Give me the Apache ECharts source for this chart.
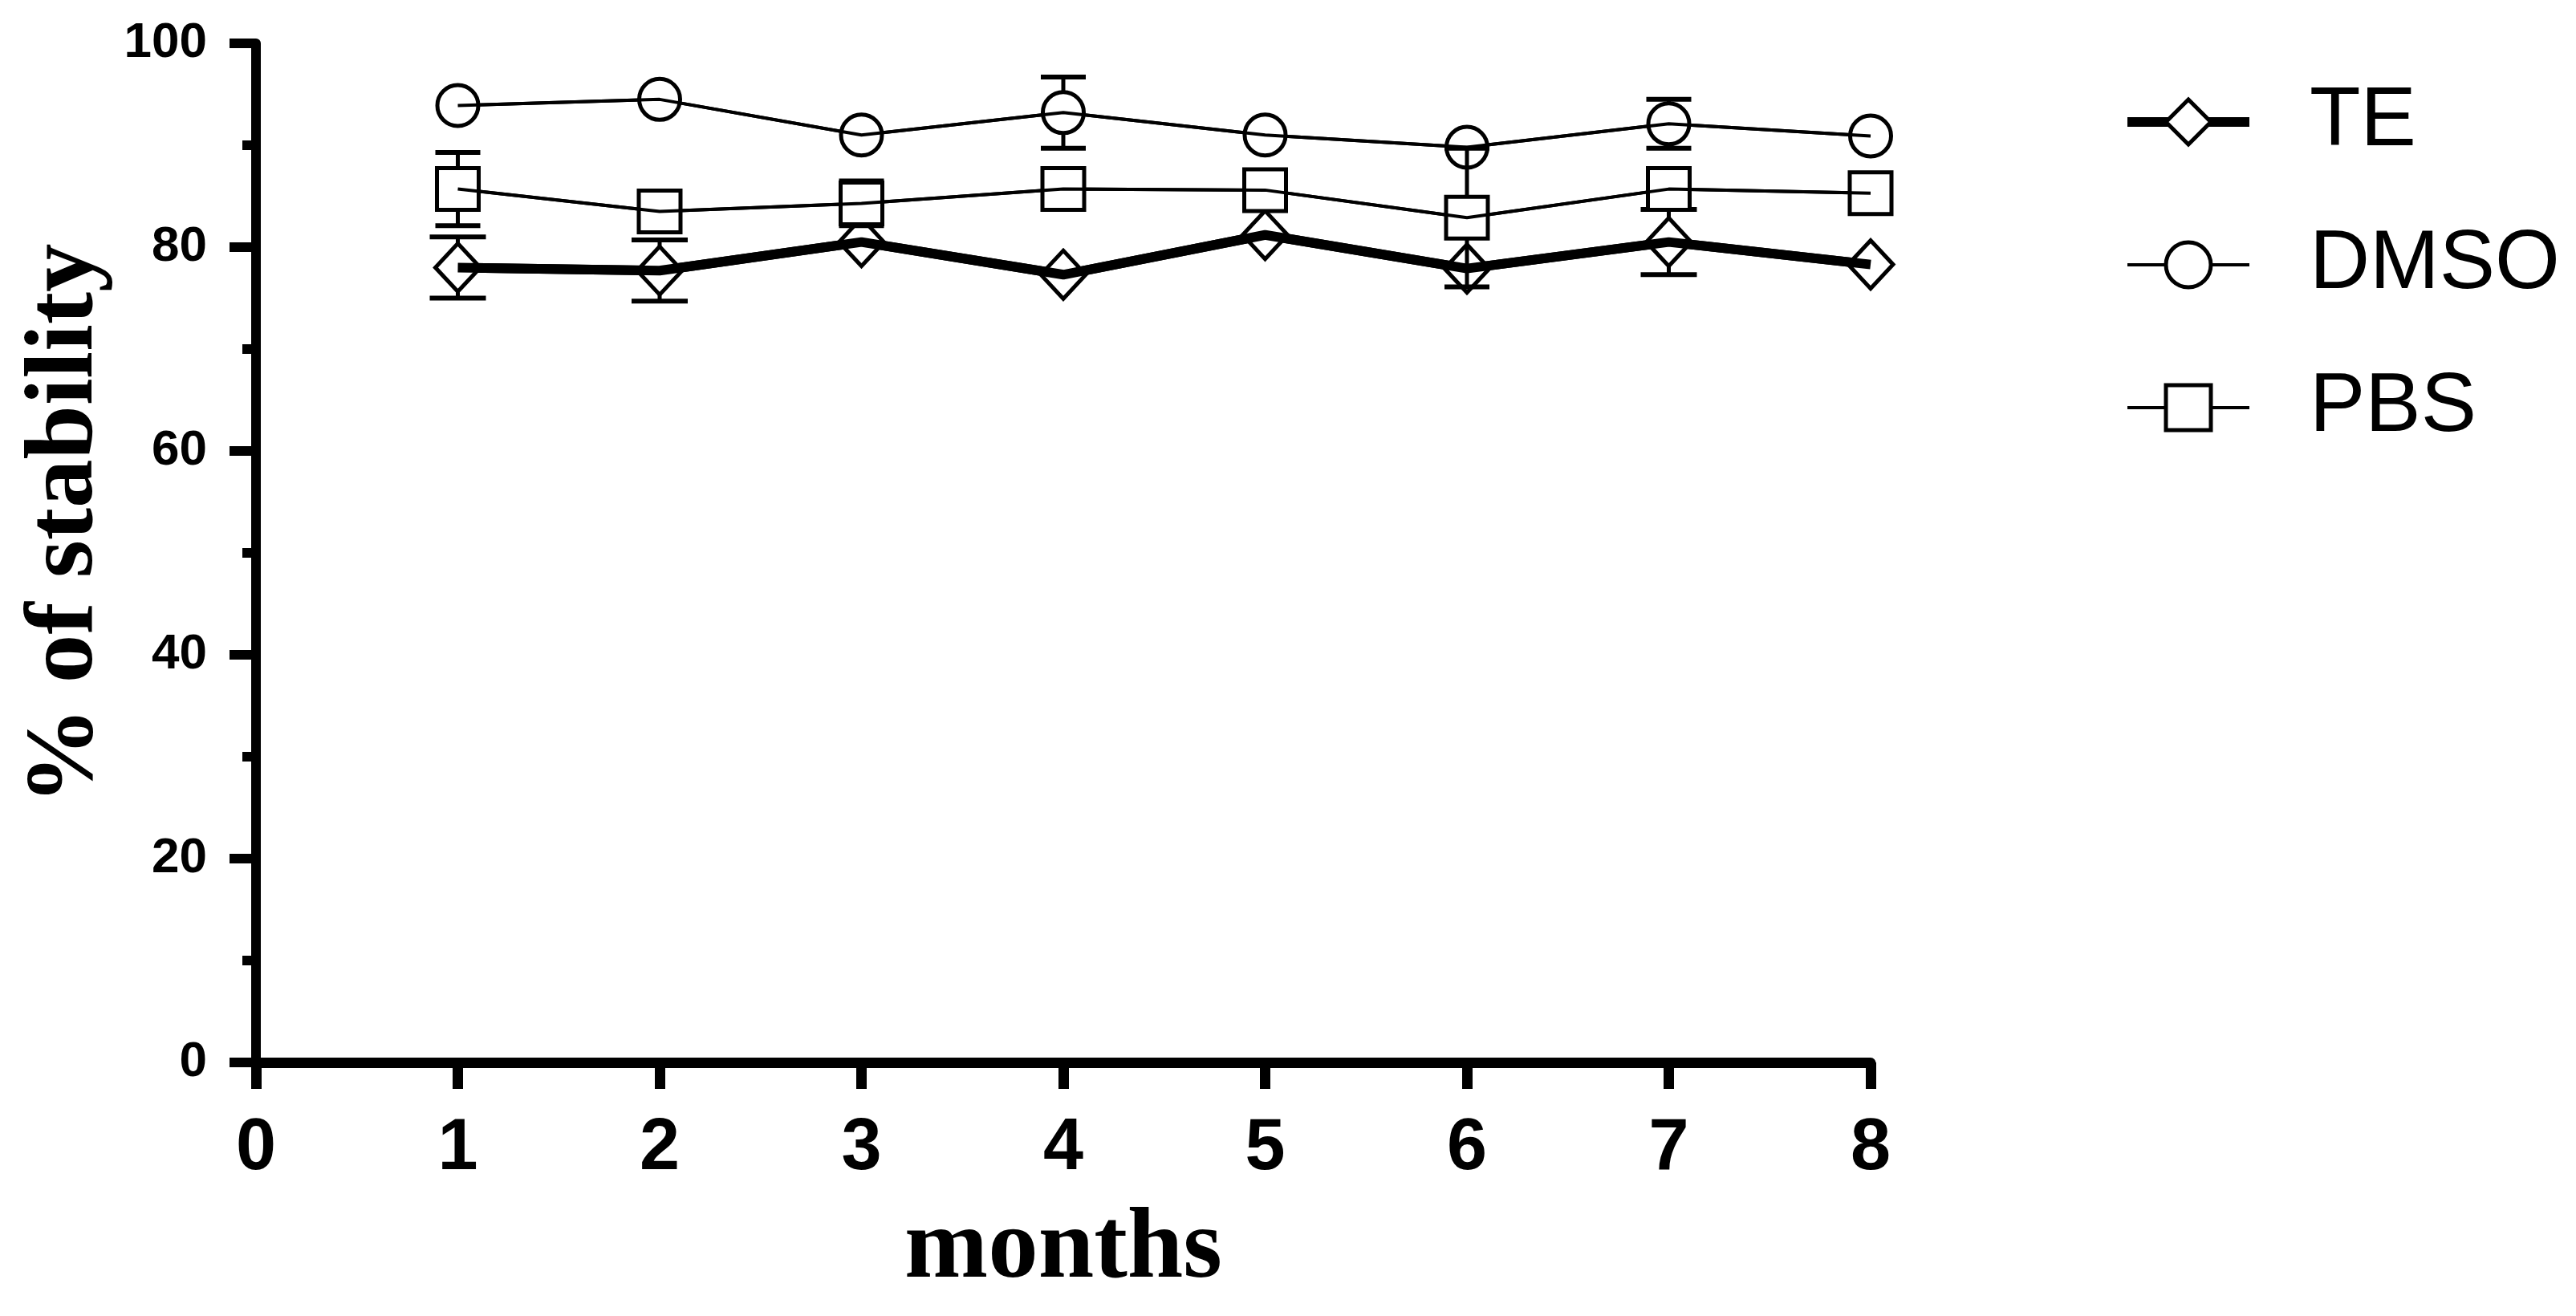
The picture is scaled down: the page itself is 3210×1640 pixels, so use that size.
<!DOCTYPE html>
<html>
<head>
<meta charset="utf-8">
<script src="https://cdn.jsdelivr.net/npm/echarts@6/dist/echarts.min.js"></script>
<style>
html,body{margin:0;padding:0;background:#fff;}
#chart{width:3210px;height:1640px;}
</style>
</head>
<body>
<div id="chart"></div>
<script>
// ---- data ----
var months = [1, 2, 3, 4, 5, 6, 7, 8];
var xTicks = [0, 1, 2, 3, 4, 5, 6, 7, 8];
var yTicks = [0, 20, 40, 60, 80, 100];
var seriesNames = ['TE', 'DMSO', 'PBS'];
var teValues   = [78.0, 77.7, 80.5, 77.3, 81.2, 77.9, 80.5, 78.3];
var teErr      = [3.0, 3.0, 0, 0, 0, 0, 3.2, 0];
var dmsoValues = [93.9, 94.5, 91.0, 93.2, 91.0, 89.8, 92.1, 90.9];
var dmsoErr    = [0, 0, 0, 3.5, 0, 0, 2.4, 0];
var pbsValues  = [85.7, 83.5, 84.3, 85.7, 85.6, 82.9, 85.7, 85.3];
var pbsErr     = [3.6, 0, 2.2, 0, 0, 6.8, 0, 0];

var TE_LW = 12, THIN_LW = 4;

function pairs(vals) {
  return months.map(function (m, i) { return [m, vals[i]]; });
}
function errData(vals, errs) {
  var out = [];
  months.forEach(function (m, i) { if (errs[i] > 0) out.push([m, vals[i], errs[i]]); });
  return out;
}
function errSeries(vals, errs, capHalf, z) {
  return {
    type: 'custom',
    coordinateSystem: 'cartesian2d',
    z: z,
    silent: true,
    encode: { x: 0, y: 1 },
    data: errData(vals, errs),
    renderItem: function (params, api) {
      var x = api.value(0), y = api.value(1), e = api.value(2);
      var top = api.coord([x, y + e]);
      var bot = api.coord([x, y - e]);
      var st = { stroke: '#000', lineWidth: 5 };
      var cs = { stroke: '#000', lineWidth: 6 };
      return {
        type: 'group',
        children: [
          { type: 'line', shape: { x1: top[0], y1: top[1], x2: bot[0], y2: bot[1] }, style: st },
          { type: 'line', shape: { x1: top[0] - capHalf, y1: top[1], x2: top[0] + capHalf, y2: top[1] }, style: cs },
          { type: 'line', shape: { x1: bot[0] - capHalf, y1: bot[1], x2: bot[0] + capHalf, y2: bot[1] }, style: cs }
        ]
      };
    }
  };
}
function mainSeries(name, vals, symbol, size, lw, z) {
  return {
    name: name,
    type: 'line',
    z: z,
    data: pairs(vals),
    symbol: symbol,
    symbolSize: size,
    showSymbol: true,
    lineStyle: { color: '#000', width: lw },
    itemStyle: { color: '#fff', borderColor: '#000', borderWidth: 5 },
    emphasis: { disabled: true }
  };
}
function overlayLine(vals, lw, z) {
  return {
    type: 'line',
    z: z,
    silent: true,
    data: pairs(vals),
    showSymbol: false,
    symbol: 'none',
    lineStyle: { color: '#000', width: lw },
    emphasis: { disabled: true }
  };
}
function legendItem(name, lw) {
  return {
    name: name,
    itemStyle: { color: '#fff', borderColor: '#000', borderWidth: 5 },
    lineStyle: { color: '#000', width: lw }
  };
}

var chart = echarts.init(document.getElementById('chart'), null, { renderer: 'canvas' });
chart.setOption({
  animation: false,
  backgroundColor: '#fff',
  grid: { left: 319, right: 879, top: 54, bottom: 316, containLabel: false },
  legend: {
    data: [legendItem(seriesNames[0], TE_LW), legendItem(seriesNames[1], THIN_LW), legendItem(seriesNames[2], THIN_LW)],
    orient: 'vertical',
    left: 2645,
    top: 100,
    padding: 0,
    itemWidth: 152,
    itemHeight: 70,
    itemGap: 74,
    textStyle: { fontSize: 104, fontFamily: 'Liberation Sans, Arial, sans-serif', color: '#000', padding: [0, 0, 0, 70] },
    selectedMode: false
  },
  xAxis: {
    type: 'value',
    min: xTicks[0],
    max: xTicks[xTicks.length - 1],
    interval: 1,
    name: 'months',
    nameLocation: 'middle',
    nameGap: 172,
    nameTextStyle: { fontFamily: 'Liberation Serif, Times New Roman, serif', fontWeight: 'bold', fontSize: 125, color: '#000' },
    axisLine: { show: true, onZero: false, lineStyle: { color: '#000', width: 13 } },
    axisTick: { show: true, length: 33, lineStyle: { color: '#000', width: 13 } },
    axisLabel: { margin: 63, fontSize: 90, fontWeight: 'bold', fontFamily: 'Liberation Sans, Arial, sans-serif', color: '#000' },
    splitLine: { show: false }
  },
  yAxis: {
    type: 'value',
    min: yTicks[0],
    max: yTicks[yTicks.length - 1],
    interval: 20,
    name: '% of stability',
    nameLocation: 'middle',
    nameGap: 166,
    nameTextStyle: { fontFamily: 'Liberation Serif, Times New Roman, serif', fontWeight: 'bold', fontSize: 121, color: '#000', padding: [0, 0, 0, 72] },
    axisLine: { show: true, onZero: false, lineStyle: { color: '#000', width: 12 } },
    axisTick: { show: true, length: 33, lineStyle: { color: '#000', width: 12 } },
    minorTick: { show: true, splitNumber: 2, length: 17, lineStyle: { color: '#000', width: 12 } },
    axisLabel: { margin: 61, fontSize: 62, fontWeight: 'bold', fontFamily: 'Liberation Sans, Arial, sans-serif', color: '#000' },
    splitLine: { show: false },
    minorSplitLine: { show: false }
  },
  series: [
    errSeries(teValues, teErr, 35, 1),
    mainSeries('TE', teValues, 'diamond', [56, 60], TE_LW, 2),
    overlayLine(teValues, TE_LW, 3),
    errSeries(dmsoValues, dmsoErr, 28, 4),
    mainSeries('DMSO', dmsoValues, 'circle', 51, THIN_LW, 5),
    overlayLine(dmsoValues, THIN_LW, 6),
    errSeries(pbsValues, pbsErr, 28, 7),
    mainSeries('PBS', pbsValues, 'rect', 52, THIN_LW, 8),
    overlayLine(pbsValues, THIN_LW, 9)
  ]
});
</script>
</body>
</html>
